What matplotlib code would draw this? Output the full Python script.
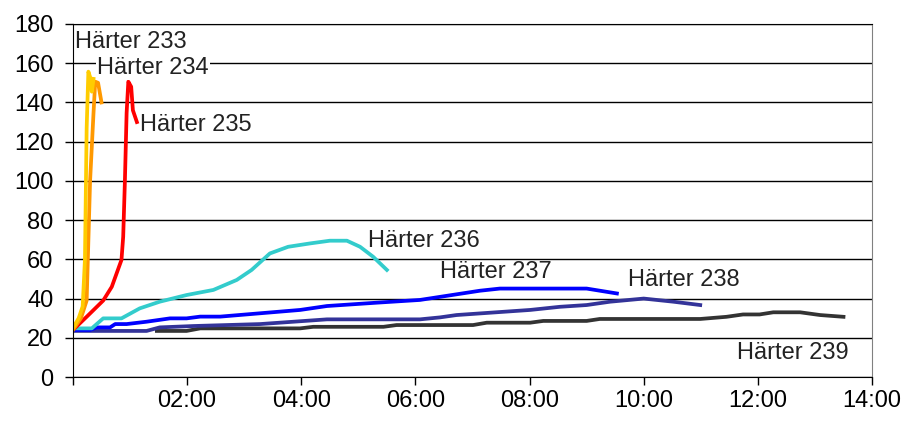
import matplotlib.pyplot as plt

plt.rcParams['font.family'] = ['Liberation Sans', 'DejaVu Sans']

t233 = [0.0, 0.1, 0.17, 0.21, 0.24, 0.27, 0.3, 0.33, 0.36]
v233 = [25, 30, 36, 60, 127, 155.7, 153, 145.5, 152]

t234 = [0.0, 0.14, 0.24, 0.3, 0.36, 0.39, 0.44, 0.47, 0.5]
v234 = [24, 30, 39, 100, 134.6, 150.6, 150, 145, 140]

t235 = [0.0, 0.25, 0.53, 0.68, 0.85, 0.88, 0.91, 0.94, 0.97, 1.02, 1.05, 1.12]
v235 = [24, 31, 39, 46, 59.7, 71.5, 100, 134.6, 150.6, 148, 136, 130]

t236 = [0.0, 0.33, 0.53, 0.85, 1.17, 1.52, 1.99, 2.46, 2.87, 3.13, 3.45, 3.77,
        4.15, 4.5, 4.8, 5.03, 5.26, 5.5]
v236 = [24.8, 24.8, 29.9, 29.9, 35, 38.4, 41.8, 44.4, 49.5, 54.6, 63, 66.4,
        68.1, 69.5, 69.5, 66.4, 61.3, 54.6]

t237 = [0.0, 0.3, 0.42, 0.65, 0.74, 0.94, 1.29, 1.7, 1.99, 2.23, 2.58, 3.28,
        3.98, 4.45, 5.32, 6.08, 7.13, 7.48, 9.0, 9.53]
v237 = [24, 24, 25.3, 25.3, 27, 27, 28.2, 29.9, 29.9, 30.8, 30.8, 32.5,
        34.2, 36.2, 37.9, 39.3, 44, 45.1, 45.1, 42.6]

t238 = [0.0, 1.29, 1.52, 2.11, 3.28, 4.45, 6.08, 6.43, 6.72, 8.01, 8.53, 9.0,
        9.41, 10.0, 10.52, 10.99]
v238 = [23.5, 23.5, 25.3, 26, 27, 29.4, 29.4, 30.4, 31.6, 34.2, 35.8, 36.7,
        38.4, 40, 38.4, 36.7]

t239 = [1.47, 1.99, 2.23, 3.98, 4.21, 5.44, 5.67, 7.01, 7.25, 8.01, 8.24, 9.0,
        9.23, 10.99, 11.45, 11.74, 12.03, 12.27, 12.74, 13.09, 13.5]
v239 = [23.5, 23.5, 24.8, 24.8, 25.6, 25.6, 26.5, 26.5, 27.7, 27.7, 28.6, 28.6,
        29.6, 29.6, 30.7, 31.9, 31.9, 33, 33, 31.6, 30.7]

x_ticks = [0, 2, 4, 6, 8, 10, 12, 14]
x_labels = ['', '02:00', '04:00', '06:00', '08:00', '10:00', '12:00', '14:00']
y_ticks = [0, 20, 40, 60, 80, 100, 120, 140, 160, 180]

fig = plt.figure(figsize=(9.03, 4.23), dpi=100)
ax = fig.add_axes([0.0808, 0.1087, 0.8849, 0.8346])

lw = 2.7
ax.plot(t239, v239, color='#333333', lw=lw)
ax.plot(t238, v238, color='#333399', lw=lw)
ax.plot(t237, v237, color='#0000FF', lw=lw)
ax.plot(t236, v236, color='#33CCCC', lw=lw)
ax.plot(t235, v235, color='#FF0000', lw=lw)
ax.plot(t234, v234, color='#FF9900', lw=lw)
ax.plot(t233, v233, color='#FFCC00', lw=lw)

fs = 17
tc = '#222222'
ax.text(0.04, 171, 'Härter 233', fontsize=fs, va='center', ha='left', color=tc)
ax.text(0.42, 157.6, 'Härter 234', fontsize=fs, va='center', ha='left', color=tc,
        bbox=dict(facecolor='white', edgecolor='none', pad=1))
ax.text(1.17, 128.5, 'Härter 235', fontsize=fs, va='center', ha='left', color=tc)
ax.text(5.17, 69.4, 'Härter 236', fontsize=fs, va='center', ha='left', color=tc)
ax.text(6.43, 53.5, 'Härter 237', fontsize=fs, va='center', ha='left', color=tc)
ax.text(9.72, 49.5, 'Härter 238', fontsize=fs, va='center', ha='left', color=tc)
ax.text(11.63, 12.2, 'Härter 239', fontsize=fs, va='center', ha='left', color=tc)

ax.set_xlim(0, 14)
ax.set_ylim(0, 180)
ax.set_xticks(x_ticks)
ax.set_xticklabels(x_labels)
ax.set_yticks(y_ticks)
ax.tick_params(axis='both', labelsize=fs, direction='out', length=6, width=1, colors='black')
ax.tick_params(axis='y', pad=8)
ax.grid(axis='y', color='black', lw=1)
ax.set_axisbelow(True)
ax.spines['right'].set_color('#808080')
ax.spines['top'].set_color('black')

fig.savefig('out.png', dpi=100)
